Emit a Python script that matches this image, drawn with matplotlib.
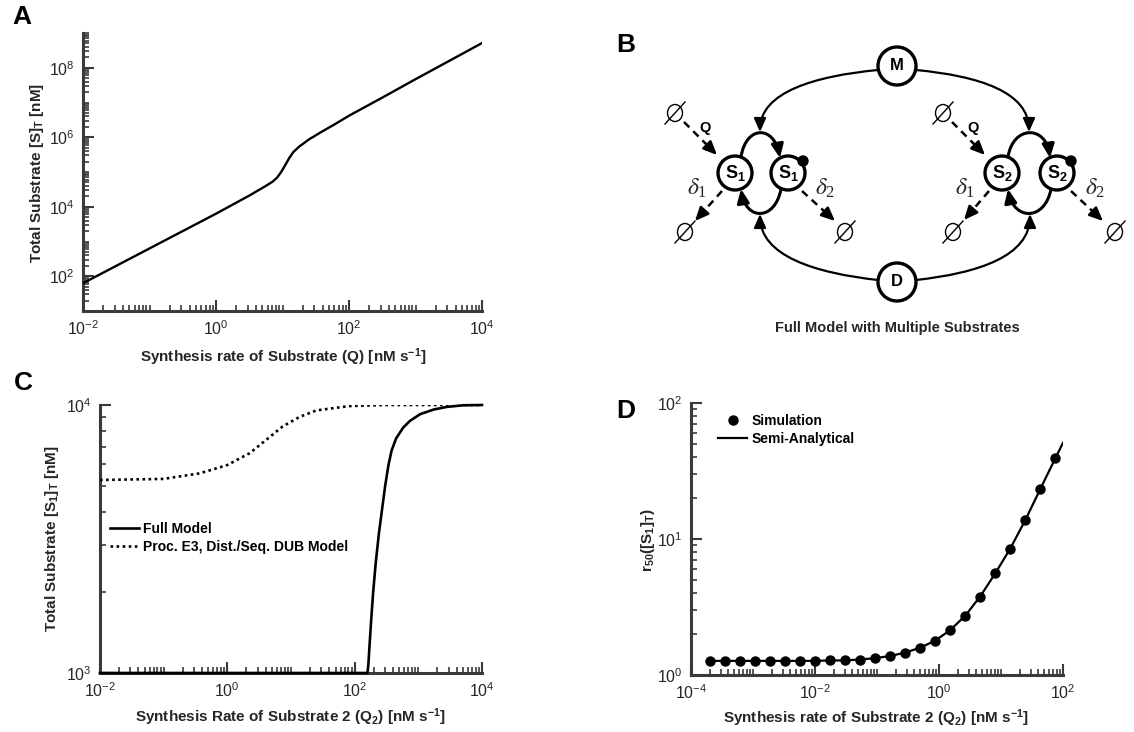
import numpy as np
import matplotlib.pyplot as plt
from matplotlib.patches import Circle, Ellipse, FancyArrowPatch
from matplotlib.path import Path
from matplotlib.ticker import FixedLocator, LogLocator, NullFormatter

W, H = 1134, 732

# ---- data ----
# A: total substrate vs synthesis rate
q_a = [0.01, 0.1, 1, 3.16, 5.62, 7.08, 8.32, 9.55, 11.0, 12.6, 14.5, 17.8, 25.1,
       39.8, 63.1, 100, 316, 1000, 10000]
s_a = [63, 631, 6310, 2.09e4, 3.98e4, 5.25e4, 6.92e4, 1.0e5, 1.58e5, 2.51e5, 3.72e5,
       5.37e5, 8.71e5, 1.48e6, 2.45e6, 4.17e6, 1.38e7, 4.68e7, 5.13e8]

# C: [S1]_T vs Q2
q_c_full = [0.01, 158.5, 164, 172, 182, 195, 214, 240, 269, 302, 339, 380, 447, 575,
            741, 1072, 1738, 2818, 5129, 10000]
s1_full = [1000, 1000, 1072, 1288, 1585, 1995, 2570, 3311, 4074, 5012, 5957, 6761,
           7499, 8222, 8730, 9247, 9616, 9840, 9977, 10000]
q_c_proc = [0.01, 0.1, 0.37, 1, 2.24, 4.07, 7.41, 13.8, 25.1, 83, 316, 10000]
s1_proc = [5250, 5300, 5560, 5970, 6610, 7410, 8320, 9040, 9550, 9910, 10000, 10000]
legend_c = ['Full Model', 'Proc. E3, Dist./Seq. DUB Model']

# D: r50 vs Q2
q_d_sim = [2.0e-4, 3.5e-4, 6.1e-4, 1.07e-3, 1.87e-3, 3.3e-3, 5.7e-3, 1.0e-2,
           1.74e-2, 3.05e-2, 5.3e-2, 9.3e-2, 0.163, 0.284, 0.50, 0.87,
           1.52, 2.65, 4.6, 8.1, 14.1, 24.7, 43, 75]
r50_sim = [1.27, 1.27, 1.27, 1.27, 1.27, 1.27, 1.27, 1.27, 1.28, 1.28, 1.30, 1.33,
           1.38, 1.46, 1.59, 1.79, 2.14, 2.73, 3.77, 5.6, 8.5, 13.8, 23.3, 39.1]
q_d_ana = q_d_sim + [100]
r50_ana = r50_sim + [51]
legend_d = ['Simulation', 'Semi-Analytical']

plt.rcParams['font.family'] = ['Liberation Sans', 'DejaVu Sans']
plt.rcParams['mathtext.default'] = 'regular'
axcol = '#3a3a3a'
txtcol = '#262626'

fig = plt.figure(figsize=(W / 100, H / 100), dpi=100)


def px_axes(l, t, r, b):
    return fig.add_axes([l / W, 1 - b / H, (r - l) / W, (b - t) / H])


def style(ax, xlim, ylim, xmaj, ymaj):
    ax.set_xscale('log')
    ax.set_yscale('log')
    ax.set_xlim(xlim)
    ax.set_ylim(ylim)
    for s in ['top', 'right']:
        ax.spines[s].set_visible(False)
    for s in ['left', 'bottom']:
        ax.spines[s].set_color(axcol)
        ax.spines[s].set_linewidth(2.2)
    ax.xaxis.set_major_locator(FixedLocator(xmaj))
    ax.yaxis.set_major_locator(FixedLocator(ymaj))
    for a in [ax.xaxis, ax.yaxis]:
        a.set_minor_locator(LogLocator(base=10, subs=np.arange(1, 10), numticks=200))
        a.set_minor_formatter(NullFormatter())
    ax.tick_params(which='both', direction='in', colors=axcol, labelcolor=txtcol,
                   labelsize=11.5, pad=6)
    ax.tick_params(which='major', length=8, width=1.5)
    ax.tick_params(which='minor', length=4.5, width=1.2)


lab = dict(fontsize=11, fontweight='bold', color=txtcol, ha='center', va='center')

# ---- A ----
ax_a = px_axes(83, 33, 482, 311)
style(ax_a, (1e-2, 1e4), (1e1, 1e9), [1e-2, 1, 1e2, 1e4], [1e2, 1e4, 1e6, 1e8])
ax_a.plot(q_a, s_a, color='black', lw=1.7, zorder=3, solid_joinstyle='round')
fig.text(283 / W, 1 - 357 / H, r'Synthesis rate of Substrate (Q) [nM s$^{-1}$]', **lab)
fig.text(37 / W, 1 - 173 / H, r'Total Substrate [S]$_T$ [nM]', rotation=90, **lab)

# ---- C ----
ax_c = px_axes(100, 405, 482, 673)
style(ax_c, (1e-2, 1e4), (1e3, 1e4), [1e-2, 1, 1e2, 1e4], [1e3, 1e4])
ax_c.plot(q_c_full, s1_full, color='black', lw=1.9, zorder=3, clip_on=False,
          solid_joinstyle='round', label=legend_c[0])
ax_c.plot(q_c_proc, s1_proc, color='black', lw=1.9, ls=(0, (1, 1.3)), zorder=3,
          label=legend_c[1])
ax_c.legend(frameon=False, loc='upper left', bbox_to_anchor=(0.026, 0.565),
            prop=dict(weight='bold', size=10), handlelength=2.1, handletextpad=0.3,
            borderpad=0, borderaxespad=0, labelspacing=0.3)
fig.text(291 / W, 1 - 717 / H, r'Synthesis Rate of Substrate 2 (Q$_2$) [nM s$^{-1}$]', **lab)
fig.text(52 / W, 1 - 539 / H, r'Total Substrate [S$_1$]$_T$ [nM]', rotation=90, **lab)

# ---- D ----
ax_d = px_axes(691, 403, 1063, 675)
style(ax_d, (1e-4, 1e2), (1, 1e2), [1e-4, 1e-2, 1, 1e2], [1, 1e1, 1e2])
ax_d.plot(q_d_sim, r50_sim, 'o', color='black', ms=6.5, zorder=4, clip_on=False,
          label=legend_d[0])
ax_d.plot(q_d_ana, r50_ana, color='black', lw=1.6, zorder=3, label=legend_d[1])
ax_d.legend(frameon=False, loc='upper left', bbox_to_anchor=(0.073, 0.96),
            prop=dict(weight='bold', size=10), handlelength=2.1, handletextpad=0.3,
            borderpad=0, borderaxespad=0, labelspacing=0.3)
fig.text(876 / W, 1 - 718 / H, r'Synthesis rate of Substrate 2 (Q$_2$) [nM s$^{-1}$]', **lab)
fig.text(648 / W, 1 - 540 / H, r'r$_{50}$([S$_1$]$_T$)', rotation=90, **lab)

# ---- B: schematic ----
ax_b = px_axes(640, 0, 1134, 330)
ax_b.set_xlim(640, 1134)
ax_b.set_ylim(330, 0)
ax_b.axis('off')


def node(x, y, r, text, lw=2.4, size=12):
    ax_b.add_patch(Circle((x, y), r, facecolor='white', edgecolor='black', lw=lw, zorder=4))
    ax_b.text(x, y, text, ha='center', va='center', fontsize=size, fontweight='bold',
              zorder=5)


def bez(pts, lw, head=True):
    codes = [Path.MOVETO, Path.CURVE4, Path.CURVE4, Path.CURVE4]
    st = '-|>,head_length=0.45,head_width=0.2' if head else '-'
    ax_b.add_patch(FancyArrowPatch(path=Path(pts, codes), arrowstyle=st, mutation_scale=18,
                                   lw=lw, color='black', zorder=3))


def dashed(p0, p1, lw=1.8):
    p0, p1 = np.array(p0, float), np.array(p1, float)
    d = (p1 - p0) / np.hypot(*(p1 - p0))
    mid = p1 - 9 * d
    ax_b.plot([p0[0], mid[0]], [p0[1], mid[1]], color='black', lw=lw, dashes=(3, 2.2))
    ax_b.add_patch(FancyArrowPatch(mid, p1, arrowstyle='-|>,head_length=0.45,head_width=0.2',
                                   mutation_scale=18, lw=lw, color='black',
                                   shrinkA=0, shrinkB=0))


def empty(x, y):
    ax_b.add_patch(Ellipse((x, y), 15, 17, fill=False, lw=1.0, color='black'))
    ax_b.plot([x - 10, x + 10], [y + 11, y - 11], color='black', lw=1.0)


def delta(x, y, i):
    ax_b.text(x, y, r'$\mathit{\delta}_%d$' % i, ha='center', va='center', fontsize=17,
              math_fontfamily='stix', family='Liberation Serif', color=txtcol)


# big arcs from M and D
bez([(878, 70), (815, 76), (760, 92), (760, 132)], 1.6)
bez([(916, 70), (979, 76), (1029, 92), (1029, 132)], 1.6)
bez([(878, 280), (815, 273), (760, 256), (760, 214)], 1.6)
bez([(916, 280), (979, 273), (1030, 256), (1030, 214)], 1.6)

# small loops between substrate states
bez([(741, 157), (746, 125), (774, 125), (780, 158)], 2.2)
bez([(781, 189), (775, 221), (746, 221), (741, 189)], 2.2)
bez([(1008, 157), (1013, 125), (1046, 125), (1050, 158)], 2.2)
bez([(1051, 189), (1045, 221), (1014, 221), (1008, 189)], 2.2)

node(897, 66, 19, 'M', size=12)
node(897, 282, 19, 'D', size=12)
node(735, 173, 17, r'S$_1$', size=13)
node(788, 173, 17, r'S$_1$', size=13)
node(1002, 173, 17, r'S$_2$', size=13)
node(1057, 173, 17, r'S$_2$', size=13)
ax_b.add_patch(Circle((803, 161), 5, color='black', zorder=6))
ax_b.add_patch(Circle((1071, 161), 5, color='black', zorder=6))

# synthesis and degradation
for cx, cy in [(675, 113), (685, 232), (845, 232), (943, 113), (953, 232), (1115, 232)]:
    empty(cx, cy)
dashed((684, 122), (717, 155))
dashed((722, 191), (695, 221))
dashed((802, 191), (835, 221))
dashed((952, 122), (985, 155))
dashed((989, 191), (964, 220))
dashed((1071, 191), (1103, 221))
ax_b.text(705, 128, 'Q', ha='center', va='center', fontsize=10.5, fontweight='bold')
ax_b.text(973, 128, 'Q', ha='center', va='center', fontsize=10.5, fontweight='bold')
delta(697, 188, 1)
delta(825, 188, 2)
delta(965, 188, 1)
delta(1095, 188, 2)

fig.text(897 / W, 1 - 328 / H, 'Full Model with Multiple Substrates', ha='center',
         va='center', fontsize=10.5, fontweight='bold', color=txtcol)

# panel letters
for letter, x, y in [('A', 22, 17), ('B', 626, 45), ('C', 23, 383), ('D', 626, 411)]:
    fig.text(x / W, 1 - y / H, letter, ha='center', va='center', fontsize=19,
             fontweight='bold', color='black')

fig.savefig('out.png', dpi=100)
